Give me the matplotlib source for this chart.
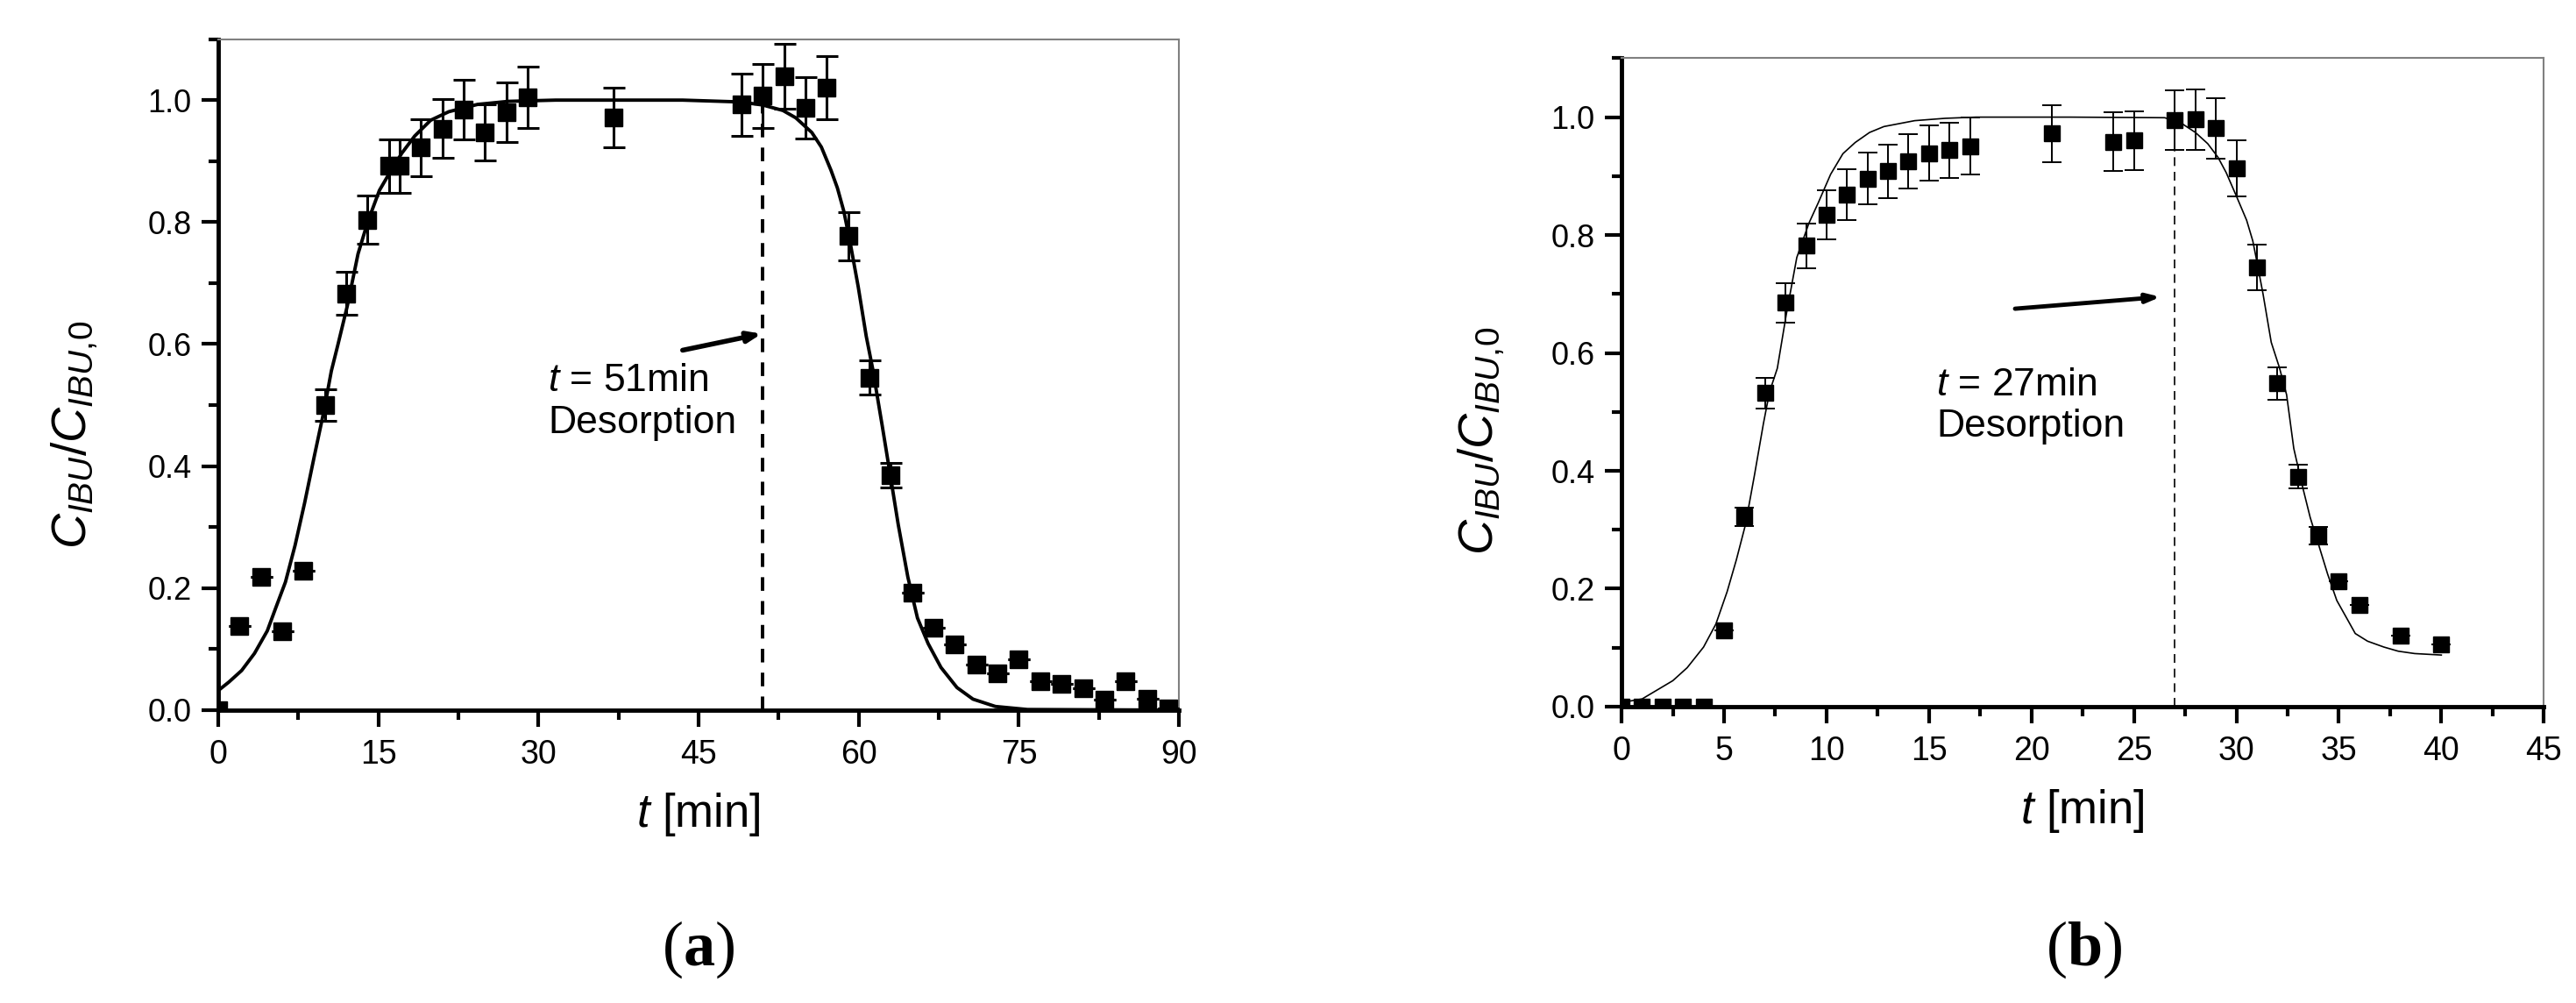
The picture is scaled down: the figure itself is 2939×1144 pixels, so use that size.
import matplotlib.pyplot as plt
from matplotlib import font_manager
from matplotlib.ticker import MultipleLocator

# ---- panel (a) : measured points ----
t_a = [0, 2, 4, 6, 8, 10, 12, 14, 16, 17, 19, 21, 23, 25, 27, 29, 37,
       49, 51, 53, 55, 57, 59, 61, 63, 65, 67, 69, 71, 73, 75, 77, 79, 81, 83, 85, 87, 89]
c_a = [0.0, 0.138, 0.218, 0.129, 0.228, 0.50, 0.683, 0.804, 0.892, 0.892, 0.922, 0.953, 0.984,
       0.947, 0.98, 1.005, 0.972, 0.993, 1.007, 1.039, 0.987, 1.02, 0.777, 0.545, 0.385, 0.193,
       0.135, 0.108, 0.075, 0.061, 0.084, 0.047, 0.043, 0.036, 0.017, 0.048, 0.018, 0.003]
err_a = [0, 0, 0, 0, 0, 0.026, 0.035, 0.04, 0.044, 0.044, 0.047, 0.048, 0.049, 0.046, 0.049, 0.05,
         0.049, 0.051, 0.052, 0.053, 0.05, 0.052, 0.04, 0.028, 0.02, 0, 0, 0, 0, 0, 0, 0, 0, 0,
         0, 0, 0, 0]

# panel (a) : model curve
fit_t_a = [0, 1, 2.2, 3.4, 4.6, 5.4, 6.3, 7.2, 8.1, 9.0, 9.9, 10.6, 11.2, 12.1, 13.1, 14, 15.1,
           16.2, 17.2, 18.4, 19.9, 21.6, 24.3, 27.2, 31.6, 43.5, 48.9, 51, 52.9, 54.1, 55.6, 56.5,
           57.4, 58, 58.6, 59.2, 59.95, 60.7, 61.3, 62.2, 63, 63.7, 64.6, 65.5, 66.5, 67.7, 69.2,
           70.7, 72.8, 75.8, 90]
fit_c_a = [0.032, 0.046, 0.065, 0.093, 0.13, 0.168, 0.21, 0.27, 0.34, 0.416, 0.49, 0.556, 0.598,
           0.663, 0.748, 0.8, 0.852, 0.885, 0.913, 0.941, 0.967, 0.981, 0.993, 0.998, 1.0, 1.0,
           0.997, 0.992, 0.983, 0.971, 0.947, 0.923, 0.885, 0.856, 0.818, 0.766, 0.694, 0.613,
           0.56, 0.466, 0.38, 0.304, 0.218, 0.151, 0.109, 0.07, 0.037, 0.018, 0.006, 0.001, 0.0]

# ---- panel (b) : measured points ----
t_b = [0, 1, 2, 3, 4, 5, 6, 7, 8, 9, 10, 11, 12, 13, 14, 15, 16, 17, 21, 24, 25, 27, 28, 29,
       30, 31, 32, 33, 34, 35, 36, 38, 40]
c_b = [0, 0, 0, 0, 0, 0.130, 0.322, 0.532, 0.685, 0.782, 0.834, 0.868, 0.896, 0.908, 0.925,
       0.939, 0.944, 0.951, 0.972, 0.958, 0.96, 0.995, 0.996, 0.981, 0.913, 0.745, 0.548, 0.39,
       0.29, 0.213, 0.172, 0.12, 0.106]
err_b = [0, 0, 0, 0, 0, 0, 0.016, 0.026, 0.034, 0.038, 0.042, 0.043, 0.044, 0.045, 0.046, 0.047,
         0.047, 0.048, 0.048, 0.05, 0.05, 0.051, 0.051, 0.051, 0.047, 0.038, 0.028, 0.02, 0.015,
         0, 0, 0, 0]

# panel (b) : model curve
fit_t_b = [0, 1, 2.5, 3.2, 4.0, 4.6, 5.15, 5.6, 6.04, 6.48, 6.92, 7.22, 7.6, 8.03, 8.55, 9.14,
           9.6, 10.2, 10.8, 11.4, 12.1, 12.8, 14.3, 15.8, 17.3, 21.9, 26.5, 27.3, 28.0, 28.6, 29.1,
           29.5, 30.0, 30.5, 30.8, 31.0, 31.3, 31.7, 32.1, 32.45, 32.8, 33.2, 33.6, 34.0, 34.45,
           34.9, 35.4, 35.8, 36.4, 37.2, 37.9, 38.7, 40.0]
fit_c_b = [0.007, 0.013, 0.044, 0.066, 0.101, 0.14, 0.195, 0.249, 0.308, 0.392, 0.48, 0.534,
           0.574, 0.664, 0.762, 0.82, 0.855, 0.903, 0.938, 0.957, 0.974, 0.984, 0.994, 0.998,
           1.0, 1.0, 0.999, 0.99, 0.974, 0.955, 0.932, 0.906, 0.866, 0.825, 0.79, 0.755, 0.7,
           0.618, 0.575, 0.529, 0.438, 0.377, 0.321, 0.276, 0.225, 0.18, 0.149, 0.124, 0.111,
           0.101, 0.094, 0.09, 0.0875]

t_switch_a = 51
t_switch_b = 27

# fonts
names = set(f.name for f in font_manager.fontManager.ttflist)
sans = 'Liberation Sans' if 'Liberation Sans' in names else 'DejaVu Sans'
narrow = 'Liberation Sans Narrow' if 'Liberation Sans Narrow' in names else sans
serif = 'Liberation Serif' if 'Liberation Serif' in names else 'DejaVu Serif'

plt.rcParams['font.family'] = sans
plt.rcParams['mathtext.fontset'] = 'custom'
plt.rcParams['mathtext.rm'] = sans
plt.rcParams['mathtext.it'] = sans + ':italic'
plt.rcParams['mathtext.bf'] = serif + ':bold'

fig = plt.figure(figsize=(29.39, 11.44), dpi=100)
ax1 = fig.add_axes([0.0847, 0.292, 0.373, 0.669])
ax2 = fig.add_axes([0.6295, 0.2955, 0.358, 0.6465])


def style(ax, xmax, xmaj, xmin_, lab_x):
    ax.set_xlim(0, xmax)
    ax.set_ylim(0, 1.1)
    ax.xaxis.set_major_locator(MultipleLocator(xmaj))
    ax.xaxis.set_minor_locator(MultipleLocator(xmin_))
    ax.yaxis.set_major_locator(MultipleLocator(0.2))
    ax.yaxis.set_minor_locator(MultipleLocator(0.1))
    ax.yaxis.set_major_formatter(plt.FormatStrFormatter('%.1f'))
    for s in ['left', 'bottom']:
        ax.spines[s].set_linewidth(3.5)
    for s in ['top', 'right']:
        ax.spines[s].set_linewidth(1.5)
        ax.spines[s].set_color('#808080')
    ax.tick_params(which='major', direction='out', length=14, width=3, top=False, right=False)
    ax.tick_params(which='minor', direction='out', length=8, width=3, top=False, right=False)
    ax.tick_params(axis='y', labelsize=26, pad=8)
    ax.tick_params(axis='x', labelsize=27, pad=10)
    for lab in ax.get_xticklabels():
        lab.set_family(narrow)
    ax.set_xlabel('$t$ [min]', fontsize=38, labelpad=16)
    ax.set_ylabel(r'$\mathit{C_{IBU}/C_{IBU,\!0}}$', fontsize=40)
    ax.yaxis.set_label_coords(lab_x, 0.41)


style(ax1, 90, 15, 7.5, -0.123)
style(ax2, 45, 5, 2.5, -0.125)

# (a)
ax1.plot(fit_t_a, fit_c_a, color='k', lw=2.8, zorder=3)
ax1.errorbar(t_a, c_a, yerr=err_a, fmt='none', ecolor='k', elinewidth=2.2, capsize=9,
             capthick=2.2, zorder=4)
ax1.plot(t_a, c_a, 's', color='k', markersize=14.5, zorder=5)
ax1.plot([t_switch_a, t_switch_a], [0, 0.99], color='k', lw=2.8, ls=(0, (4, 3)), zorder=2)
ax1.text(30.9, 0.505, '$t$ = 51min\nDesorption', fontsize=32, ha='left', va='center',
         linespacing=1.2)
ax1.annotate('', xy=(50.9, 0.617), xytext=(43.5, 0.59),
             arrowprops=dict(arrowstyle='-|>,head_length=0.9,head_width=0.35', color='k',
                             lw=4, shrinkA=0, shrinkB=0))

# (b)
ax2.plot(fit_t_b, fit_c_b, color='k', lw=1.2, zorder=3)
ax2.errorbar(t_b, c_b, yerr=err_b, fmt='none', ecolor='k', elinewidth=1.4, capsize=8,
             capthick=1.4, zorder=4)
ax2.plot(t_b, c_b, 's', color='k', markersize=13, zorder=5)
ax2.plot([t_switch_b, t_switch_b], [0, 0.99], color='k', lw=1.2, ls=(0, (6, 4)), zorder=2)
ax2.text(15.35, 0.51, '$t$ = 27min\nDesorption', fontsize=32, ha='left', va='center',
         linespacing=1.2)
ax2.annotate('', xy=(26.3, 0.695), xytext=(19.2, 0.675),
             arrowprops=dict(arrowstyle='-|>,head_length=0.9,head_width=0.3', color='k',
                             lw=3.5, shrinkA=0, shrinkB=0))

fig.text(0.271, 0.053, r'($\mathbf{a}$)', family=serif, fontsize=52, ha='center', va='center')
fig.text(0.809, 0.053, r'($\mathbf{b}$)', family=serif, fontsize=52, ha='center', va='center')

fig.savefig('out.png', dpi=100, facecolor='white')
